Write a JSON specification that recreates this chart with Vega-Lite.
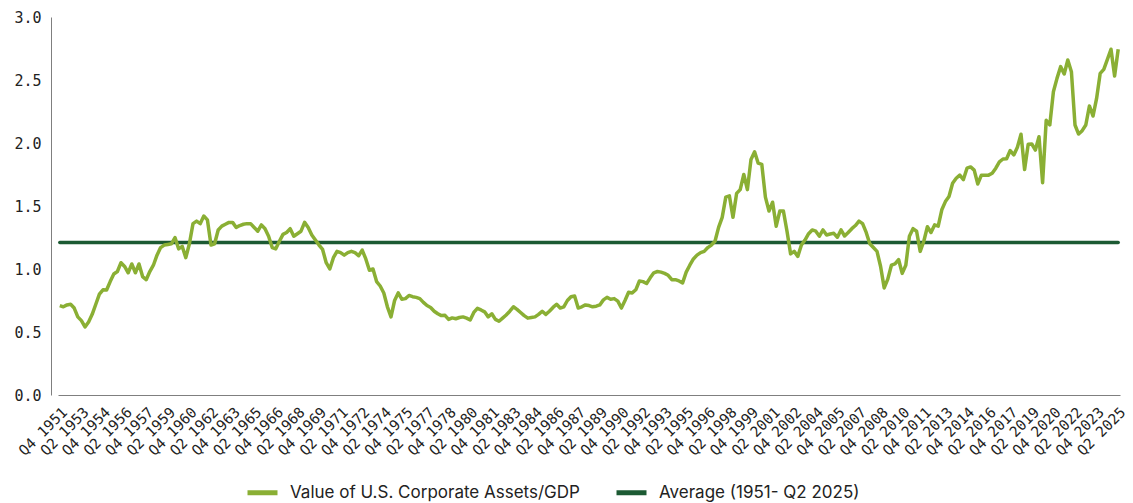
{
  "$schema": "https://vega.github.io/schema/vega-lite/v6.json",
  "autosize": {"type": "none"},
  "width": 1071,
  "height": 378,
  "padding": {"left": 51, "top": 17, "right": 11, "bottom": 108},
  "background": "white",
  "config": {"view": {"stroke": null}},
  "data": {"values": [
{"q":"Q4 1951","v":0.71},
{"q":"Q1 1952","v":0.70},{"q":"Q2 1952","v":0.715},{"q":"Q3 1952","v":0.72},{"q":"Q4 1952","v":0.69},
{"q":"Q1 1953","v":0.62},{"q":"Q2 1953","v":0.59},{"q":"Q3 1953","v":0.54},{"q":"Q4 1953","v":0.58},
{"q":"Q1 1954","v":0.64},{"q":"Q2 1954","v":0.72},{"q":"Q3 1954","v":0.80},{"q":"Q4 1954","v":0.835},
{"q":"Q1 1955","v":0.833},{"q":"Q2 1955","v":0.90},{"q":"Q3 1955","v":0.96},{"q":"Q4 1955","v":0.98},
{"q":"Q1 1956","v":1.05},{"q":"Q2 1956","v":1.02},{"q":"Q3 1956","v":0.97},{"q":"Q4 1956","v":1.04},
{"q":"Q1 1957","v":0.97},{"q":"Q2 1957","v":1.04},{"q":"Q3 1957","v":0.94},{"q":"Q4 1957","v":0.915},
{"q":"Q1 1958","v":0.98},{"q":"Q2 1958","v":1.03},{"q":"Q3 1958","v":1.11},{"q":"Q4 1958","v":1.17},
{"q":"Q1 1959","v":1.19},{"q":"Q2 1959","v":1.195},{"q":"Q3 1959","v":1.20},{"q":"Q4 1959","v":1.25},
{"q":"Q1 1960","v":1.16},{"q":"Q2 1960","v":1.18},{"q":"Q3 1960","v":1.09},{"q":"Q4 1960","v":1.20},
{"q":"Q1 1961","v":1.36},{"q":"Q2 1961","v":1.38},{"q":"Q3 1961","v":1.36},{"q":"Q4 1961","v":1.42},
{"q":"Q1 1962","v":1.39},{"q":"Q2 1962","v":1.19},{"q":"Q3 1962","v":1.20},{"q":"Q4 1962","v":1.31},
{"q":"Q1 1963","v":1.34},{"q":"Q2 1963","v":1.355},{"q":"Q3 1963","v":1.37},{"q":"Q4 1963","v":1.37},
{"q":"Q1 1964","v":1.33},{"q":"Q2 1964","v":1.345},{"q":"Q3 1964","v":1.355},{"q":"Q4 1964","v":1.36},
{"q":"Q1 1965","v":1.36},{"q":"Q2 1965","v":1.33},{"q":"Q3 1965","v":1.30},{"q":"Q4 1965","v":1.35},
{"q":"Q1 1966","v":1.32},{"q":"Q2 1966","v":1.26},{"q":"Q3 1966","v":1.17},{"q":"Q4 1966","v":1.16},
{"q":"Q1 1967","v":1.22},{"q":"Q2 1967","v":1.275},{"q":"Q3 1967","v":1.29},{"q":"Q4 1967","v":1.32},
{"q":"Q1 1968","v":1.26},{"q":"Q2 1968","v":1.28},{"q":"Q3 1968","v":1.30},{"q":"Q4 1968","v":1.37},
{"q":"Q1 1969","v":1.33},{"q":"Q2 1969","v":1.27},{"q":"Q3 1969","v":1.23},{"q":"Q4 1969","v":1.19},
{"q":"Q1 1970","v":1.155},{"q":"Q2 1970","v":1.05},{"q":"Q3 1970","v":1.00},{"q":"Q4 1970","v":1.09},
{"q":"Q1 1971","v":1.14},{"q":"Q2 1971","v":1.13},{"q":"Q3 1971","v":1.11},{"q":"Q4 1971","v":1.13},
{"q":"Q1 1972","v":1.14},{"q":"Q2 1972","v":1.13},{"q":"Q3 1972","v":1.105},{"q":"Q4 1972","v":1.15},
{"q":"Q1 1973","v":1.08},{"q":"Q2 1973","v":0.99},{"q":"Q3 1973","v":1.00},{"q":"Q4 1973","v":0.90},
{"q":"Q1 1974","v":0.865},{"q":"Q2 1974","v":0.81},{"q":"Q3 1974","v":0.70},{"q":"Q4 1974","v":0.62},
{"q":"Q1 1975","v":0.75},{"q":"Q2 1975","v":0.81},{"q":"Q3 1975","v":0.76},{"q":"Q4 1975","v":0.765},
{"q":"Q1 1976","v":0.79},{"q":"Q2 1976","v":0.78},{"q":"Q3 1976","v":0.775},{"q":"Q4 1976","v":0.765},
{"q":"Q1 1977","v":0.735},{"q":"Q2 1977","v":0.71},{"q":"Q3 1977","v":0.695},{"q":"Q4 1977","v":0.665},
{"q":"Q1 1978","v":0.645},{"q":"Q2 1978","v":0.63},{"q":"Q3 1978","v":0.632},{"q":"Q4 1978","v":0.60},
{"q":"Q1 1979","v":0.612},{"q":"Q2 1979","v":0.605},{"q":"Q3 1979","v":0.615},{"q":"Q4 1979","v":0.62},
{"q":"Q1 1980","v":0.61},{"q":"Q2 1980","v":0.595},{"q":"Q3 1980","v":0.655},{"q":"Q4 1980","v":0.688},
{"q":"Q1 1981","v":0.675},{"q":"Q2 1981","v":0.66},{"q":"Q3 1981","v":0.62},{"q":"Q4 1981","v":0.645},
{"q":"Q1 1982","v":0.60},{"q":"Q2 1982","v":0.585},{"q":"Q3 1982","v":0.61},{"q":"Q4 1982","v":0.635},
{"q":"Q1 1983","v":0.665},{"q":"Q2 1983","v":0.70},{"q":"Q3 1983","v":0.68},{"q":"Q4 1983","v":0.655},
{"q":"Q1 1984","v":0.63},{"q":"Q2 1984","v":0.61},{"q":"Q3 1984","v":0.615},{"q":"Q4 1984","v":0.62},
{"q":"Q1 1985","v":0.64},{"q":"Q2 1985","v":0.665},{"q":"Q3 1985","v":0.64},{"q":"Q4 1985","v":0.665},
{"q":"Q1 1986","v":0.695},{"q":"Q2 1986","v":0.72},{"q":"Q3 1986","v":0.69},{"q":"Q4 1986","v":0.70},
{"q":"Q1 1987","v":0.75},{"q":"Q2 1987","v":0.78},{"q":"Q3 1987","v":0.785},{"q":"Q4 1987","v":0.69},
{"q":"Q1 1988","v":0.70},{"q":"Q2 1988","v":0.715},{"q":"Q3 1988","v":0.71},{"q":"Q4 1988","v":0.70},
{"q":"Q1 1989","v":0.705},{"q":"Q2 1989","v":0.715},{"q":"Q3 1989","v":0.755},{"q":"Q4 1989","v":0.775},
{"q":"Q1 1990","v":0.76},{"q":"Q2 1990","v":0.765},{"q":"Q3 1990","v":0.745},{"q":"Q4 1990","v":0.69},
{"q":"Q1 1991","v":0.75},{"q":"Q2 1991","v":0.815},{"q":"Q3 1991","v":0.81},{"q":"Q4 1991","v":0.835},
{"q":"Q1 1992","v":0.905},{"q":"Q2 1992","v":0.90},{"q":"Q3 1992","v":0.885},{"q":"Q4 1992","v":0.93},
{"q":"Q1 1993","v":0.97},{"q":"Q2 1993","v":0.98},{"q":"Q3 1993","v":0.975},{"q":"Q4 1993","v":0.965},
{"q":"Q1 1994","v":0.95},{"q":"Q2 1994","v":0.915},{"q":"Q3 1994","v":0.915},{"q":"Q4 1994","v":0.905},
{"q":"Q1 1995","v":0.89},{"q":"Q2 1995","v":0.975},{"q":"Q3 1995","v":1.03},{"q":"Q4 1995","v":1.08},
{"q":"Q1 1996","v":1.11},{"q":"Q2 1996","v":1.13},{"q":"Q3 1996","v":1.14},{"q":"Q4 1996","v":1.17},
{"q":"Q1 1997","v":1.19},{"q":"Q2 1997","v":1.22},{"q":"Q3 1997","v":1.33},{"q":"Q4 1997","v":1.41},
{"q":"Q1 1998","v":1.57},{"q":"Q2 1998","v":1.58},{"q":"Q3 1998","v":1.41},{"q":"Q4 1998","v":1.60},
{"q":"Q1 1999","v":1.63},{"q":"Q2 1999","v":1.75},{"q":"Q3 1999","v":1.63},{"q":"Q4 1999","v":1.87},
{"q":"Q1 2000","v":1.93},{"q":"Q2 2000","v":1.84},{"q":"Q3 2000","v":1.83},{"q":"Q4 2000","v":1.57},
{"q":"Q1 2001","v":1.46},{"q":"Q2 2001","v":1.53},{"q":"Q3 2001","v":1.34},{"q":"Q4 2001","v":1.46},
{"q":"Q1 2002","v":1.46},{"q":"Q2 2002","v":1.30},{"q":"Q3 2002","v":1.12},{"q":"Q4 2002","v":1.14},
{"q":"Q1 2003","v":1.10},{"q":"Q2 2003","v":1.19},{"q":"Q3 2003","v":1.23},{"q":"Q4 2003","v":1.28},
{"q":"Q1 2004","v":1.31},{"q":"Q2 2004","v":1.30},{"q":"Q3 2004","v":1.26},{"q":"Q4 2004","v":1.31},
{"q":"Q1 2005","v":1.27},{"q":"Q2 2005","v":1.278},{"q":"Q3 2005","v":1.283},{"q":"Q4 2005","v":1.252},
{"q":"Q1 2006","v":1.31},{"q":"Q2 2006","v":1.262},{"q":"Q3 2006","v":1.29},{"q":"Q4 2006","v":1.32},
{"q":"Q1 2007","v":1.345},{"q":"Q2 2007","v":1.38},{"q":"Q3 2007","v":1.36},{"q":"Q4 2007","v":1.29},
{"q":"Q1 2008","v":1.20},{"q":"Q2 2008","v":1.17},{"q":"Q3 2008","v":1.14},{"q":"Q4 2008","v":1.02},
{"q":"Q1 2009","v":0.85},{"q":"Q2 2009","v":0.92},{"q":"Q3 2009","v":1.03},{"q":"Q4 2009","v":1.04},
{"q":"Q1 2010","v":1.075},{"q":"Q2 2010","v":0.965},{"q":"Q3 2010","v":1.03},{"q":"Q4 2010","v":1.26},
{"q":"Q1 2011","v":1.32},{"q":"Q2 2011","v":1.30},{"q":"Q3 2011","v":1.14},{"q":"Q4 2011","v":1.22},
{"q":"Q1 2012","v":1.335},{"q":"Q2 2012","v":1.29},{"q":"Q3 2012","v":1.35},{"q":"Q4 2012","v":1.34},
{"q":"Q1 2013","v":1.47},{"q":"Q2 2013","v":1.535},{"q":"Q3 2013","v":1.575},{"q":"Q4 2013","v":1.68},
{"q":"Q1 2014","v":1.72},{"q":"Q2 2014","v":1.745},{"q":"Q3 2014","v":1.71},{"q":"Q4 2014","v":1.80},
{"q":"Q1 2015","v":1.81},{"q":"Q2 2015","v":1.785},{"q":"Q3 2015","v":1.675},{"q":"Q4 2015","v":1.745},
{"q":"Q1 2016","v":1.745},{"q":"Q2 2016","v":1.745},{"q":"Q3 2016","v":1.76},{"q":"Q4 2016","v":1.80},
{"q":"Q1 2017","v":1.85},{"q":"Q2 2017","v":1.873},{"q":"Q3 2017","v":1.875},{"q":"Q4 2017","v":1.94},
{"q":"Q1 2018","v":1.905},{"q":"Q2 2018","v":1.966},{"q":"Q3 2018","v":2.07},{"q":"Q4 2018","v":1.79},
{"q":"Q1 2019","v":1.99},{"q":"Q2 2019","v":1.992},{"q":"Q3 2019","v":1.944},{"q":"Q4 2019","v":2.05},
{"q":"Q1 2020","v":1.685},{"q":"Q2 2020","v":2.18},{"q":"Q3 2020","v":2.143},{"q":"Q4 2020","v":2.407},
{"q":"Q1 2021","v":2.513},{"q":"Q2 2021","v":2.606},{"q":"Q3 2021","v":2.548},{"q":"Q4 2021","v":2.659},
{"q":"Q1 2022","v":2.566},{"q":"Q2 2022","v":2.143},{"q":"Q3 2022","v":2.071},{"q":"Q4 2022","v":2.098},
{"q":"Q1 2023","v":2.143},{"q":"Q2 2023","v":2.294},{"q":"Q3 2023","v":2.214},{"q":"Q4 2023","v":2.354},
{"q":"Q1 2024","v":2.553},{"q":"Q2 2024","v":2.584},{"q":"Q3 2024","v":2.663},{"q":"Q4 2024","v":2.744},
{"q":"Q1 2025","v":2.532},{"q":"Q2 2025","v":2.744}
  ]},
  "encoding": {
    "x": {
      "field": "q", "type": "ordinal", "sort": null,
      "scale": {"type": "point", "range": [7, 1069]},
      "axis": {
        "title": null,
        "values": ["Q4 1951","Q2 1953","Q4 1954","Q2 1956","Q4 1957","Q2 1959","Q4 1960","Q2 1962","Q4 1963","Q2 1965","Q4 1966","Q2 1968","Q4 1969","Q2 1971","Q4 1972","Q2 1974","Q4 1975","Q2 1977","Q4 1978","Q2 1980","Q4 1981","Q2 1983","Q4 1984","Q2 1986","Q4 1987","Q2 1989","Q4 1990","Q2 1992","Q4 1993","Q2 1995","Q4 1996","Q2 1998","Q4 1999","Q2 2001","Q4 2002","Q2 2004","Q4 2005","Q2 2007","Q4 2008","Q2 2010","Q4 2011","Q2 2013","Q4 2014","Q2 2016","Q4 2017","Q2 2019","Q4 2020","Q2 2022","Q4 2023","Q2 2025"],
        "labelAngle": -45,
        "labelFont": "DejaVu Sans Mono",
        "labelFontSize": 14.5,
        "labelColor": "#222222",
        "labelPadding": 10,
        "ticks": false,
        "domainColor": "#7f7f7f",
        "domainWidth": 1,
        "grid": false,
        "labelOverlap": false
      }
    }
  },
  "layer": [
    {
      "mark": {"type": "line", "strokeWidth": 3.5, "strokeCap": "round"},
      "encoding": {
        "y": {"datum": 1.21, "type": "quantitative"},
        "color": {"datum": "Average (1951- Q2 2025)"}
      }
    },
    {
      "mark": {"type": "line", "strokeWidth": 3.5, "strokeJoin": "round"},
      "encoding": {
        "y": {
          "field": "v", "type": "quantitative",
          "scale": {"domain": [0, 3], "nice": false},
          "axis": {
            "title": null,
            "values": [0, 0.5, 1, 1.5, 2, 2.5, 3],
            "format": ".1f",
            "labelFont": "DejaVu Sans Mono",
            "labelFontSize": 15,
            "labelColor": "#222222",
            "labelPadding": 10,
            "ticks": false,
            "grid": false,
            "domainColor": "#7f7f7f",
            "domainWidth": 1
          }
        },
        "color": {
          "datum": "Value of U.S. Corporate Assets/GDP",
          "scale": {
            "domain": ["Value of U.S. Corporate Assets/GDP", "Average (1951- Q2 2025)"],
            "range": ["#8aaf34", "#1c5a33"]
          },
          "legend": {
            "title": null,
            "orient": "none",
            "direction": "horizontal",
            "legendX": 194,
            "legendY": 458,
            "symbolType": "stroke",
            "symbolStrokeWidth": 5,
            "symbolSize": 900,
            "labelFont": "Inter",
            "labelFontSize": 17,
            "labelColor": "#222222",
            "labelLimit": 400,
            "labelOffset": 10,
            "columnPadding": 26
          }
        }
      }
    }
  ]
}
